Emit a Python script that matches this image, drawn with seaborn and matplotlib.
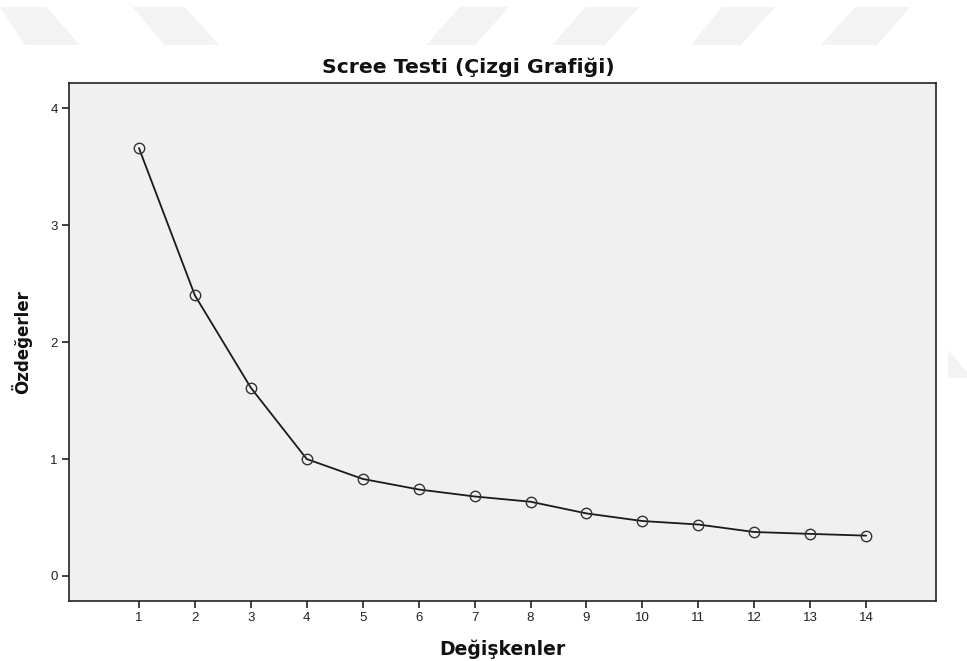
import matplotlib
matplotlib.use('Agg')
import matplotlib.pyplot as plt
import seaborn as sns
import pandas as pd
from matplotlib.patches import Polygon

# Scree test verileri (okunan degerler)
bilesenler = list(range(1, 15))
ozdegerler = [3.66, 2.40, 1.61, 1.00, 0.83, 0.74, 0.68, 0.635, 0.535,
              0.47, 0.44, 0.376, 0.36, 0.345]
y_ticks = [0, 1, 2, 3, 4]

df = pd.DataFrame({'Değişkenler': bilesenler, 'Özdeğerler': ozdegerler})

sns.set_style('ticks')
plt.rcParams['font.family'] = ['Liberation Sans', 'DejaVu Sans']

fig = plt.figure(figsize=(9.67, 6.61), dpi=100)
ax = fig.add_axes([0.0714, 0.0908, 0.8966, 0.7842])
ax.set_facecolor('#f0f0f0')

sns.lineplot(data=df, x='Değişkenler', y='Özdeğerler', ax=ax,
             color='#1a1a1a', linewidth=1.3, marker='o', markersize=7.5,
             markerfacecolor='none', markeredgecolor='#333333',
             markeredgewidth=1.0)

ax.set_xlim(-0.25, 15.25)
ax.set_ylim(-0.214, 4.22)
ax.set_xticks(bilesenler)
ax.set_yticks(y_ticks)
ax.tick_params(axis='both', length=5, width=1.2, color='#222222',
               labelsize=9.5, labelcolor='#222222', pad=3)

for sp in ax.spines.values():
    sp.set_color('#222222')
    sp.set_linewidth(1.2)

baslik_font = ['DejaVu Sans']
# baslik grafikte biraz sola kaymis
fig.text(468 / 967, 1 - 67 / 661, 'Scree Testi (Çizgi Grafiği)', fontsize=14.7,
         fontweight='bold', family=baslik_font, color='#111111',
         ha='center', va='center')
ax.set_xlabel('Değişkenler', fontsize=13.5, fontweight='bold',
              family=baslik_font, color='#111111', labelpad=11)
ax.set_ylabel('Özdeğerler', fontsize=12, fontweight='bold',
              family=baslik_font, color='#111111', labelpad=13)

# soluk filigran sekilleri
W, H = 967.0, 661.0
def shape(pts):
    p = Polygon([(x / W, 1 - y / H) for x, y in pts], closed=True,
                transform=fig.transFigure, facecolor='#f3f3f3',
                edgecolor='none', zorder=-1)
    fig.patches.append(p)

shape([(0, 7), (46, 7), (80, 45), (25, 45)])
shape([(133, 7), (185, 7), (219, 45), (164, 45)])
shape([(460, 7), (509, 7), (475, 45), (426, 45)])
shape([(586, 7), (639, 7), (605, 45), (552, 45)])
shape([(722, 7), (775, 7), (741, 45), (691, 45)])
shape([(855, 7), (910, 7), (877, 45), (821, 45)])
shape([(948, 350), (967, 372), (967, 378), (948, 378)])

fig.savefig('out.png', dpi=100)
